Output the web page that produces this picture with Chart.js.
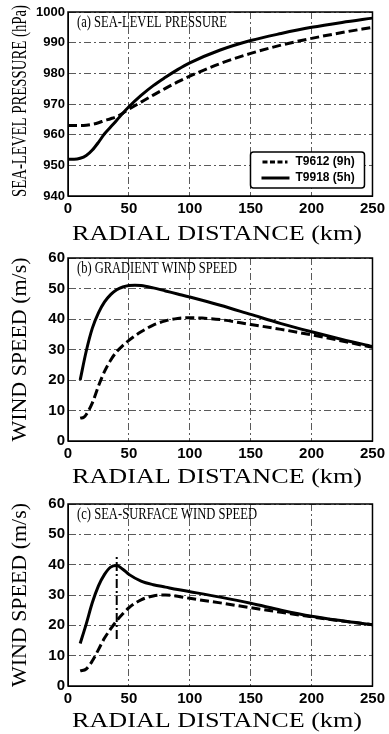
<!DOCTYPE html>
<html>
<head>
<meta charset="utf-8">
<script src="https://cdn.jsdelivr.net/npm/chart.js@4.4.1/dist/chart.umd.min.js"></script>
<style>
    html, body { margin: 0; padding: 0; background: #fff; }
    canvas { position: absolute; left: 0; }
</style>
</head>
<body>
<canvas id="chartA" width="389" height="245" style="top:0px"></canvas>
<canvas id="chartB" width="389" height="245" style="top:245px"></canvas>
<canvas id="chartC" width="389" height="244" style="top:490px"></canvas>
<script>
// (a) 海平面氣壓，單位 hPa
const radialA = [0, 5, 10, 15, 20, 25, 30, 35, 40, 45, 50, 60, 70, 80, 90, 100, 125, 150, 175, 200, 225, 250];
const slpT9612 = [963, 963, 963, 963.1, 963.4, 963.9, 964.6, 965.2, 965.9, 967, 968.3, 970.6, 972.9, 975.1, 977.2, 979.1, 983.2, 986.5, 989.2, 991.4, 993.3, 995];
const slpT9918 = [952, 952, 952.3, 953.2, 955, 957.5, 960.3, 962.5, 964.7, 967, 969.1, 972.8, 976, 978.7, 981.2, 983.4, 987.6, 990.7, 993, 995, 996.6, 998];

// (b) 梯度風速，單位 m/s
const radialB9918 = [10, 15, 20, 25, 30, 35, 40, 45, 50, 55, 60, 70, 80, 90, 100, 125, 150, 175, 200, 225, 250];
const gradT9918 = [20, 29.5, 37, 42, 45.6, 48, 49.6, 50.5, 51, 51.1, 51, 50.2, 49.2, 48.2, 47.2, 44.5, 41.5, 38.5, 35.8, 33.3, 31];
const radialB9612 = [10, 13, 15, 20, 25, 30, 35, 40, 45, 50, 60, 70, 80, 90, 100, 110, 125, 150, 175, 200, 225, 250];
const gradT9612 = [7.5, 7.8, 8.7, 12.5, 18, 22.8, 26.5, 29.3, 31.3, 33, 35.8, 38, 39.4, 40.2, 40.4, 40.3, 39.8, 38.2, 36.6, 34.8, 32.8, 30.7];

// (c) 海面風速，單位 m/s
const radialC = [10, 15, 20, 25, 30, 35, 40, 45, 50, 60, 70, 80, 90, 100, 125, 150, 175, 200, 225, 250];
const surfT9918 = [14, 20.5, 27.5, 33, 36.8, 39.2, 39.7, 38.5, 36.8, 34.6, 33.4, 32.6, 31.8, 31.1, 29.3, 27.3, 25, 23, 21.5, 20.2];
const surfT9612 = [5, 5.6, 8.3, 12, 15.8, 18.8, 21.5, 23.8, 25.8, 28.4, 29.7, 30, 29.6, 28.9, 27.4, 25.8, 24.3, 22.8, 21.4, 20.2];
// T9918 最大風速半徑的標記線
const rmwX = [40, 40];
const rmwY = [15.5, 43.5];

const xTicks = [0, 50, 100, 150, 200, 250];
const legendLabels = ["T9612 (9h)", "T9918 (5h)"];

function toPoints(xs, ys) {
    return xs.map((x, i) => ({ x: x, y: ys[i] }));
}

// 把文字水平壓縮/拉長到指定寬度（原圖用的是窄體與寬體字）
function fitText(ctx, text, x, y, width, font, align, rotate) {
    ctx.save();
    ctx.font = font;
    const w = ctx.measureText(text).width;
    ctx.translate(x, y);
    if (rotate) ctx.rotate(-Math.PI / 2);
    ctx.scale(width / w, 1);
    ctx.textAlign = align;
    ctx.textBaseline = "alphabetic";
    ctx.fillStyle = "#000";
    ctx.fillText(text, 0, 0);
    ctx.restore();
}

const paperDecor = {
    id: "paperDecor",
    afterDraw(chart, args, opts) {
        const ctx = chart.ctx;
        const area = chart.chartArea;

        ctx.save();
        ctx.strokeStyle = "#000";
        ctx.lineWidth = 1.5;
        ctx.strokeRect(area.left, area.top, area.right - area.left, area.bottom - area.top);
        ctx.restore();

        fitText(ctx, opts.label, area.left + 9, area.top + 15, opts.labelWidth, '17px "Liberation Serif"', "left");
        fitText(ctx, opts.yTitle, 25.5, (area.top + area.bottom) / 2 - opts.yShift, opts.yTitleLen, opts.yTitleFont, "center", true);
        fitText(ctx, "RADIAL DISTANCE (km)", area.left + 149, area.bottom + opts.xTitleGap, 290, '20px "Liberation Serif"', "center");

        if (opts.legend) {
            const right = area.right - 8;
            const bottom = area.bottom - 8;
            const bw = 114, bh = 36;
            ctx.save();
            ctx.beginPath();
            ctx.roundRect(right - bw, bottom - bh, bw, bh, 3);
            ctx.fillStyle = "#fff";
            ctx.fill();
            ctx.lineWidth = 1.5;
            ctx.strokeStyle = "#000";
            ctx.stroke();

            const rows = [
                { dash: [5, 2.5], y: bottom - bh + 10, x1: right - bw + 12, x2: right - bw + 37 },
                { dash: [], y: bottom - bh + 26, x1: right - bw + 11, x2: right - bw + 39 }
            ];
            ctx.font = 'bold 12px "Liberation Sans"';
            ctx.textBaseline = "middle";
            ctx.fillStyle = "#000";
            rows.forEach((row, i) => {
                ctx.beginPath();
                ctx.setLineDash(row.dash);
                ctx.lineWidth = 3;
                ctx.moveTo(row.x1, row.y);
                ctx.lineTo(row.x2, row.y);
                ctx.stroke();
                ctx.setLineDash([]);
                ctx.fillText(legendLabels[i], right - bw + 45, row.y);
            });
            ctx.restore();
        }
    }
};

function solidLine(data) {
    return { data: data, borderColor: "#000", borderWidth: 3, pointRadius: 0, cubicInterpolationMode: "monotone", fill: false };
}
function dashedLine(data) {
    return { data: data, borderColor: "#000", borderWidth: 3, borderDash: [9, 4], pointRadius: 0, cubicInterpolationMode: "monotone", fill: false };
}

function makeChart(id, height, plotTop, datasets, yMin, yMax, yTickSize, decor) {
    return new Chart(document.getElementById(id), {
        type: "line",
        data: { datasets: datasets },
        plugins: [paperDecor],
        options: {
            responsive: false,
            animation: false,
            layout: { padding: { top: plotTop, right: 14, left: 0, bottom: 0 } },
            scales: {
                x: {
                    type: "linear",
                    min: 0,
                    max: 250,
                    afterBuildTicks: (scale) => { scale.ticks = xTicks.map((v) => ({ value: v })); },
                    afterFit: (scale) => { scale.height = height - 196; },
                    grid: { display: true, color: "#5a5a5a", lineWidth: 1, drawTicks: false, drawOnChartArea: true },
                    border: { display: true, color: "#000", width: 1, dash: [7, 3, 2, 3] },
                    ticks: { color: "#000", padding: 4, maxRotation: 0, font: { family: "Liberation Sans", weight: "bold", size: 15 } }
                },
                y: {
                    min: yMin,
                    max: yMax,
                    afterFit: (scale) => { scale.width = 68; },
                    grid: { display: true, color: "#5a5a5a", lineWidth: 1, drawTicks: false, drawOnChartArea: true },
                    border: { display: true, color: "#000", width: 1, dash: [7, 3, 2, 3] },
                    ticks: {
                        stepSize: 10,
                        color: "#000",
                        padding: 3,
                        callback: (value) => String(value),
                        font: { family: "Liberation Sans", weight: "bold", size: yTickSize }
                    }
                }
            },
            plugins: {
                legend: { display: false },
                tooltip: { enabled: false },
                paperDecor: decor
            }
        }
    });
}

makeChart("chartA", 245, 12,
    [dashedLine(toPoints(radialA, slpT9612)), solidLine(toPoints(radialA, slpT9918))],
    940, 1000, 13,
    { label: "(a) SEA-LEVEL PRESSURE", labelWidth: 150, yTitle: "SEA-LEVEL PRESSURE (hPa)", yTitleLen: 192, yTitleFont: '20px "Liberation Serif"', yShift: 3, xTitleGap: 44, legend: true });

makeChart("chartB", 245, 13,
    [dashedLine(toPoints(radialB9612, gradT9612)), solidLine(toPoints(radialB9918, gradT9918))],
    0, 60, 15,
    { label: "(b) GRADIENT WIND SPEED", labelWidth: 160, yTitle: "WIND SPEED (m/s)", yTitleLen: 184, yTitleFont: '21px "Liberation Serif"', yShift: 0, xTitleGap: 42, legend: false });

makeChart("chartC", 244, 14,
    [dashedLine(toPoints(radialC, surfT9612)), solidLine(toPoints(radialC, surfT9918)),
     { data: toPoints(rmwX, rmwY), borderColor: "#000", borderWidth: 2, borderDash: [9, 3, 2, 3], pointRadius: 0, fill: false }],
    0, 60, 15,
    { label: "(c) SEA-SURFACE WIND SPEED", labelWidth: 180, yTitle: "WIND SPEED (m/s)", yTitleLen: 184, yTitleFont: '21px "Liberation Serif"', yShift: 0, xTitleGap: 41, legend: false });
</script>
</body>
</html>
